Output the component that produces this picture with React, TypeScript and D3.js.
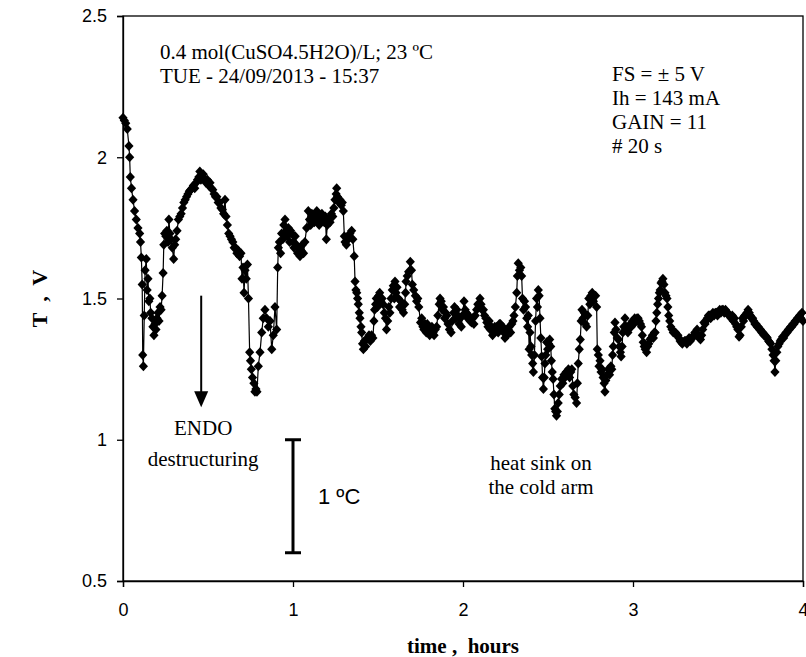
import React, { useEffect, useRef } from "react";
import * as d3 from "d3";

const times: number[] = [
0.000,0.008,0.016,0.025,0.035,0.039,0.043,0.050,0.059,0.068,0.078,0.088,0.098,0.103,0.108,0.113,0.116,0.120,0.125,0.130,
0.137,0.142,0.147,0.152,0.158,0.163,0.170,0.176,0.182,0.188,0.194,0.200,0.206,0.212,0.218,0.224,0.230,0.236,0.240,0.245,
0.252,0.258,0.265,0.270,0.276,0.282,0.290,0.298,0.304,0.310,0.318,0.326,0.334,0.342,0.350,0.358,0.366,0.374,0.382,0.390,
0.398,0.406,0.414,0.422,0.430,0.438,0.446,0.452,0.458,0.465,0.472,0.480,0.488,0.496,0.504,0.512,0.520,0.528,0.536,0.544,
0.552,0.560,0.568,0.576,0.584,0.592,0.600,0.606,0.614,0.622,0.630,0.638,0.646,0.654,0.662,0.670,0.678,0.686,0.694,0.700,
0.706,0.712,0.718,0.725,0.732,0.738,0.745,0.750,0.755,0.762,0.770,0.776,0.782,0.788,0.796,0.806,0.816,0.825,0.835,0.845,
0.855,0.865,0.875,0.884,0.894,0.904,0.910,0.914,0.920,0.927,0.933,0.940,0.946,0.953,0.960,0.966,0.973,0.980,0.986,0.992,
1.000,1.006,1.013,1.020,1.027,1.034,1.041,1.048,1.055,1.062,1.070,1.080,1.090,1.097,1.104,1.111,1.118,1.125,1.132,1.140,
1.147,1.154,1.161,1.170,1.177,1.184,1.190,1.196,1.202,1.210,1.218,1.226,1.234,1.240,1.247,1.254,1.257,1.262,1.270,1.276,
1.284,1.290,1.296,1.302,1.306,1.314,1.325,1.335,1.345,1.352,1.360,1.365,1.370,1.375,1.380,1.384,1.390,1.394,1.400,1.404,
1.409,1.414,1.420,1.427,1.433,1.440,1.447,1.455,1.462,1.470,1.476,1.480,1.486,1.490,1.497,1.504,1.510,1.517,1.524,1.530,
1.537,1.544,1.550,1.557,1.564,1.570,1.577,1.584,1.590,1.596,1.600,1.606,1.612,1.620,1.627,1.634,1.642,1.650,1.657,1.662,
1.665,1.672,1.680,1.690,1.697,1.702,1.710,1.720,1.727,1.734,1.740,1.750,1.757,1.764,1.770,1.777,1.784,1.790,1.797,1.804,
1.810,1.817,1.824,1.830,1.837,1.845,1.852,1.860,1.865,1.872,1.878,1.885,1.892,1.898,1.905,1.912,1.920,1.930,1.937,1.945,
1.950,1.957,1.964,1.970,1.977,1.984,1.990,1.997,2.006,2.013,2.020,2.027,2.034,2.042,2.050,2.057,2.064,2.072,2.080,2.087,
2.094,2.100,2.106,2.112,2.120,2.127,2.134,2.140,2.147,2.154,2.160,2.167,2.174,2.180,2.187,2.194,2.200,2.207,2.214,2.220,
2.227,2.234,2.240,2.247,2.254,2.260,2.266,2.272,2.280,2.287,2.294,2.300,2.308,2.316,2.320,2.325,2.332,2.340,2.345,2.350,
2.356,2.362,2.368,2.375,2.380,2.384,2.389,2.394,2.400,2.404,2.410,2.414,2.420,2.427,2.433,2.438,2.443,2.448,2.453,2.458,
2.463,2.468,2.473,2.478,2.482,2.487,2.492,2.498,2.504,2.510,2.516,2.520,2.525,2.530,2.535,2.540,2.545,2.550,2.555,2.560,
2.566,2.572,2.580,2.587,2.594,2.600,2.607,2.614,2.620,2.627,2.634,2.640,2.646,2.652,2.660,2.668,2.673,2.678,2.684,2.690,
2.695,2.700,2.706,2.713,2.720,2.727,2.734,2.740,2.746,2.752,2.760,2.767,2.774,2.780,2.786,2.790,2.796,2.800,2.806,2.812,
2.818,2.824,2.830,2.835,2.840,2.848,2.855,2.862,2.870,2.875,2.880,2.884,2.890,2.894,2.900,2.907,2.914,2.920,2.926,2.930,
2.936,2.940,2.946,2.953,2.960,2.966,2.970,2.977,2.984,2.990,2.997,3.004,3.010,3.017,3.024,3.030,3.037,3.044,3.050,3.055,
3.060,3.066,3.072,3.080,3.086,3.093,3.100,3.107,3.114,3.120,3.126,3.130,3.135,3.140,3.145,3.150,3.155,3.160,3.165,3.170,
3.176,3.182,3.188,3.194,3.200,3.205,3.210,3.216,3.222,3.230,3.237,3.244,3.250,3.257,3.264,3.270,3.277,3.284,3.290,3.297,
3.304,3.310,3.317,3.324,3.330,3.337,3.344,3.350,3.357,3.364,3.370,3.377,3.384,3.390,3.397,3.404,3.410,3.417,3.424,3.430,
3.437,3.444,3.450,3.457,3.464,3.470,3.477,3.484,3.490,3.497,3.504,3.510,3.517,3.524,3.530,3.537,3.544,3.550,3.557,3.564,
3.570,3.577,3.584,3.590,3.597,3.604,3.610,3.617,3.624,3.630,3.637,3.644,3.650,3.657,3.664,3.670,3.677,3.684,3.690,3.697,
3.704,3.710,3.717,3.724,3.730,3.737,3.744,3.750,3.757,3.764,3.770,3.777,3.784,3.790,3.797,3.804,3.810,3.817,3.824,3.830,
3.835,3.840,3.846,3.852,3.860,3.866,3.872,3.880,3.886,3.893,3.900,3.907,3.914,3.920,3.927,3.934,3.940,3.947,3.954,3.960,
3.967,3.974,3.980,3.987,3.994,4.000
];

const voltages: number[] = [
2.14,2.13,2.12,2.10,2.04,2.00,1.93,1.89,1.85,1.81,1.78,1.75,1.73,1.70,1.645,1.55,1.30,1.26,1.44,1.60,
1.64,1.53,1.57,1.49,1.50,1.45,1.43,1.40,1.37,1.41,1.39,1.43,1.45,1.42,1.47,1.46,1.51,1.59,1.69,1.73,
1.72,1.74,1.70,1.78,1.73,1.71,1.68,1.64,1.69,1.71,1.74,1.78,1.79,1.80,1.82,1.84,1.85,1.86,1.87,1.88,
1.885,1.89,1.90,1.89,1.91,1.92,1.93,1.95,1.92,1.93,1.94,1.92,1.91,1.92,1.90,1.91,1.89,1.885,1.87,1.86,
1.86,1.84,1.84,1.82,1.815,1.80,1.85,1.79,1.76,1.73,1.72,1.71,1.70,1.68,1.68,1.66,1.67,1.65,1.66,1.57,
1.61,1.52,1.60,1.57,1.62,1.50,1.31,1.28,1.25,1.22,1.20,1.17,1.18,1.17,1.26,1.31,1.38,1.43,1.46,1.43,
1.40,1.42,1.32,1.37,1.47,1.39,1.61,1.68,1.70,1.66,1.73,1.71,1.76,1.78,1.74,1.72,1.75,1.70,1.74,1.73,
1.70,1.68,1.72,1.69,1.66,1.68,1.65,1.67,1.69,1.66,1.70,1.75,1.81,1.78,1.76,1.80,1.79,1.77,1.79,1.81,
1.78,1.76,1.79,1.80,1.78,1.77,1.79,1.71,1.76,1.78,1.77,1.80,1.79,1.82,1.85,1.87,1.89,1.86,1.84,1.85,
1.83,1.84,1.81,1.72,1.70,1.69,1.71,1.73,1.74,1.71,1.65,1.56,1.53,1.52,1.50,1.48,1.45,1.43,1.40,1.38,
1.34,1.32,1.35,1.33,1.355,1.36,1.37,1.35,1.37,1.36,1.42,1.46,1.48,1.50,1.47,1.51,1.52,1.49,1.50,1.48,
1.45,1.43,1.39,1.42,1.47,1.45,1.50,1.53,1.545,1.50,1.56,1.52,1.54,1.50,1.47,1.49,1.46,1.45,1.48,1.52,
1.56,1.58,1.595,1.63,1.60,1.55,1.53,1.51,1.49,1.50,1.47,1.415,1.43,1.40,1.39,1.41,1.38,1.41,1.40,1.37,
1.38,1.40,1.38,1.37,1.39,1.40,1.44,1.48,1.50,1.49,1.46,1.47,1.43,1.45,1.44,1.41,1.39,1.38,1.42,1.45,
1.47,1.43,1.46,1.44,1.41,1.43,1.40,1.44,1.49,1.46,1.45,1.43,1.44,1.42,1.415,1.43,1.41,1.44,1.46,1.48,
1.47,1.50,1.48,1.46,1.46,1.44,1.43,1.415,1.40,1.42,1.39,1.40,1.37,1.38,1.40,1.39,1.40,1.38,1.41,1.41,
1.39,1.40,1.38,1.36,1.38,1.37,1.39,1.40,1.38,1.41,1.42,1.44,1.47,1.52,1.58,1.625,1.60,1.61,1.58,1.50,
1.46,1.49,1.47,1.43,1.40,1.44,1.32,1.38,1.33,1.30,1.27,1.24,1.30,1.42,1.50,1.47,1.53,1.51,1.43,1.36,
1.295,1.22,1.18,1.22,1.27,1.30,1.345,1.32,1.34,1.355,1.33,1.28,1.24,1.215,1.16,1.11,1.10,1.085,1.10,1.13,
1.16,1.19,1.215,1.20,1.23,1.22,1.24,1.23,1.25,1.22,1.24,1.25,1.19,1.16,1.15,1.13,1.20,1.27,1.32,1.355,
1.42,1.46,1.43,1.45,1.41,1.40,1.44,1.50,1.48,1.51,1.52,1.49,1.51,1.51,1.47,1.32,1.30,1.26,1.28,1.24,
1.25,1.22,1.20,1.17,1.21,1.23,1.25,1.23,1.26,1.25,1.30,1.33,1.38,1.415,1.39,1.36,1.355,1.33,1.31,1.295,
1.33,1.38,1.40,1.43,1.40,1.39,1.38,1.40,1.41,1.40,1.42,1.41,1.43,1.42,1.43,1.43,1.42,1.41,1.40,1.37,
1.345,1.33,1.32,1.31,1.33,1.34,1.355,1.36,1.37,1.36,1.38,1.38,1.42,1.45,1.48,1.50,1.52,1.53,1.555,1.56,
1.57,1.55,1.52,1.51,1.50,1.47,1.44,1.42,1.40,1.39,1.38,1.38,1.38,1.37,1.37,1.36,1.35,1.345,1.34,1.345,
1.35,1.35,1.34,1.35,1.36,1.35,1.36,1.36,1.37,1.38,1.38,1.39,1.37,1.36,1.355,1.37,1.39,1.415,1.41,1.42,
1.43,1.44,1.44,1.43,1.44,1.45,1.44,1.45,1.45,1.44,1.45,1.46,1.45,1.46,1.46,1.45,1.46,1.45,1.45,1.44,
1.44,1.43,1.44,1.42,1.43,1.41,1.40,1.39,1.365,1.37,1.40,1.43,1.42,1.44,1.44,1.45,1.46,1.45,1.44,1.43,
1.43,1.42,1.41,1.41,1.40,1.40,1.39,1.39,1.38,1.38,1.37,1.37,1.365,1.36,1.35,1.345,1.34,1.32,1.30,1.28,
1.24,1.28,1.31,1.33,1.34,1.35,1.355,1.365,1.36,1.37,1.38,1.38,1.39,1.39,1.40,1.40,1.41,1.41,1.42,1.42,
1.43,1.43,1.44,1.43,1.45,1.42
];

const xTicks: number[] = [0, 1, 2, 3, 4];
const yTicks: number[] = [0.5, 1, 1.5, 2, 2.5];
const infoLeft: string[] = ["0.4 mol(CuSO4.5H2O)/L; 23 ºC", "TUE - 24/09/2013 - 15:37"];
const infoRight: string[] = ["FS =  ± 5 V", "Ih = 143 mA", "GAIN = 11", "# 20 s"];
const endoLabel: string[] = ["ENDO", "destructuring"];
const sinkLabel: string[] = ["heat sink on", "the cold arm"];
const scaleBar: number[] = [1.0, 0.6];
const arrowRange: number[] = [1.51, 1.115];
const arrowTime = 0.46;
const scaleTime = 1.0;

const W = 806, H = 657;
const M = { left: 123, right: 3, top: 16, bottom: 76 };

export default function App() {
  const ref = useRef<SVGSVGElement>(null);
  useEffect(() => {
    const svg = d3.select(ref.current);
    svg.selectAll("*").remove();
    const x = d3.scaleLinear().domain([0, 4]).range([M.left, W - M.right]);
    const y = d3.scaleLinear().domain([0.5, 2.5]).range([H - M.bottom, M.top]);
    const serif = "'Liberation Serif', 'Times New Roman', serif";
    const sans = "'Liberation Sans', Arial, sans-serif";

    // frame
    svg.append("rect")
      .attr("x", x(0)).attr("y", y(2.5))
      .attr("width", x(4) - x(0)).attr("height", y(0.5) - y(2.5))
      .attr("fill", "none").attr("stroke", "#000").attr("stroke-width", 1.3);

    // axes
    const xAxis = d3.axisBottom(x).tickValues(xTicks).tickSize(6).tickPadding(16).tickFormat(d3.format("d"));
    const gx = svg.append("g").attr("transform", `translate(0,${y(0.5)})`).call(xAxis);
    const yAxis = d3.axisLeft(y).tickValues(yTicks).tickSize(6).tickPadding(10).tickFormat((d: any) => String(d));
    const gy = svg.append("g").attr("transform", `translate(${x(0)},0)`).call(yAxis);
    [gx, gy].forEach((g) => {
      g.select(".domain").attr("stroke", "#000").attr("stroke-width", 1.3);
      g.selectAll(".tick line").attr("stroke", "#000").attr("stroke-width", 1.3);
      g.selectAll(".tick text").attr("font-family", sans).attr("font-size", 18).attr("fill", "#000");
    });

    // data line
    const pts = times.map((t, i) => [t, voltages[i]] as [number, number]);
    const line = d3.line<[number, number]>().x((d) => x(d[0])).y((d) => y(d[1]));
    svg.append("path").datum(pts).attr("d", line).attr("fill", "none").attr("stroke", "#000").attr("stroke-width", 1.2);
    const diamond = "M0,-5L4.6,0L0,5L-4.6,0Z";
    svg.append("g").selectAll("path").data(pts).join("path")
      .attr("d", diamond)
      .attr("transform", (d) => `translate(${x(d[0])},${y(d[1])})`)
      .attr("fill", "#000");

    // arrow
    const ax = x(arrowTime);
    const ay0 = y(arrowRange[0]), ay1 = y(arrowRange[1]);
    svg.append("line").attr("x1", ax).attr("x2", ax).attr("y1", ay0).attr("y2", ay1 - 14)
      .attr("stroke", "#000").attr("stroke-width", 2);
    svg.append("path").attr("d", `M${ax - 7},${ay1 - 16}L${ax + 7},${ay1 - 16}L${ax},${ay1}Z`).attr("fill", "#000");

    // scale bar
    const sx = x(scaleTime);
    const sy0 = y(scaleBar[0]), sy1 = y(scaleBar[1]);
    svg.append("line").attr("x1", sx).attr("x2", sx).attr("y1", sy0).attr("y2", sy1).attr("stroke", "#000").attr("stroke-width", 3);
    [sy0, sy1].forEach((yy) => {
      svg.append("line").attr("x1", sx - 8).attr("x2", sx + 8).attr("y1", yy).attr("y2", yy).attr("stroke", "#000").attr("stroke-width", 3);
    });
    svg.append("text").attr("x", sx + 25).attr("y", (sy0 + sy1) / 2 + 8).attr("font-family", sans).attr("font-size", 22).text("1 ºC");

    // texts
    infoLeft.forEach((s, i) => {
      svg.append("text").attr("x", 160).attr("y", 59 + i * 24).attr("font-family", serif).attr("font-size", 21).text(s);
    });
    infoRight.forEach((s, i) => {
      svg.append("text").attr("x", 612).attr("y", 81 + i * 24).attr("font-family", serif).attr("font-size", 21).text(s);
    });
    endoLabel.forEach((s, i) => {
      svg.append("text").attr("x", ax + 2).attr("y", 435 + i * 31).attr("text-anchor", "middle").attr("font-family", serif).attr("font-size", 21).text(s);
    });
    sinkLabel.forEach((s, i) => {
      svg.append("text").attr("x", 541).attr("y", 470 + i * 24).attr("text-anchor", "middle").attr("font-family", serif).attr("font-size", 21).text(s);
    });

    // axis titles
    svg.append("text").attr("x", x(2)).attr("y", 653).attr("text-anchor", "middle")
      .attr("font-family", serif).attr("font-weight", "bold").attr("font-size", 21).attr("xml:space", "preserve").text("time ,  hours");
    svg.append("text").attr("transform", `translate(47,${(y(0.5) + y(2.5)) / 2}) rotate(-90)`).attr("text-anchor", "middle")
      .attr("font-family", serif).attr("font-weight", "bold").attr("font-size", 22).attr("xml:space", "preserve").text("T  ,  V");
  }, []);
  return (
    <svg ref={ref} width={W} height={H} style={{ position: "absolute", left: 0, top: 0, display: "block", background: "#fff" }} />
  );
}
